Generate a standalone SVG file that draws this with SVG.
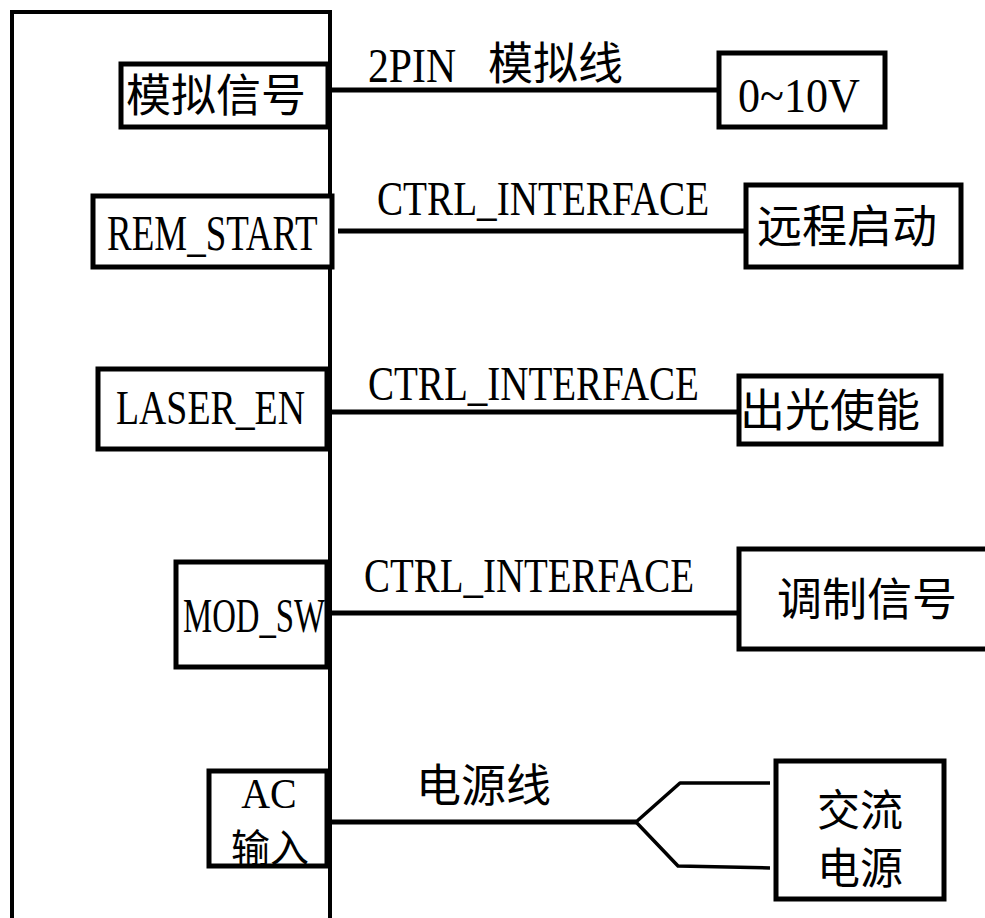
<svg xmlns="http://www.w3.org/2000/svg" width="985" height="918" viewBox="0 0 985 918">
<style>
.box{fill:#fff;stroke:#000;stroke-width:5}
.frame{fill:none;stroke:#000;stroke-width:4}
.wire{fill:none;stroke:#000;stroke-width:5}
.thin{fill:none;stroke:#000;stroke-width:3.5;stroke-linejoin:round}
.lat{font-family:"Liberation Serif","Noto Sans CJK SC",serif;font-size:48px;fill:#000}
.cjk{font-family:"Noto Sans CJK SC","Noto Sans CJK JP",sans-serif;font-size:45px;fill:#000}
</style>
<rect width="985" height="918" fill="#fff"/>
<g id="controller">
<path class="frame" d="M12,918 V12 H330 V918"/>
</g>
<g id="connectors">
<line class="wire" x1="330" y1="90" x2="718" y2="90"/>
<line class="wire" x1="338" y1="231" x2="745" y2="231"/>
<line class="wire" x1="330" y1="412" x2="738" y2="412"/>
<line class="wire" x1="330" y1="613" x2="738" y2="613"/>
<line class="wire" x1="330" y1="822" x2="636" y2="822"/>
<polyline class="thin" points="770,783 680,783 636,822 678,866 770,868"/>
<text class="lat" transform="translate(368,82) scale(0.869,1)">2PIN</text>
<text class="cjk" x="488" y="80">模拟线</text>
<text class="lat" transform="translate(377,215) scale(0.816,1)">CTRL_INTERFACE</text>
<text class="lat" transform="translate(368,400) scale(0.813,1)">CTRL_INTERFACE</text>
<text class="lat" transform="translate(364,592) scale(0.811,1)">CTRL_INTERFACE</text>
<text class="cjk" x="416" y="802">电源线</text>
</g>
<g id="analog">
<rect class="box" x="121" y="64" width="207" height="63"/>
<text class="cjk" x="126" y="112">模拟信号</text>
</g>
<g id="rem_start">
<rect class="box" x="93" y="196" width="239" height="71"/>
<text class="lat" style="font-size:50px" transform="translate(107,250) scale(0.74,1)">REM_START</text>
</g>
<g id="laser_en">
<rect class="box" x="98" y="369" width="229" height="80"/>
<text class="lat" transform="translate(116,424) scale(0.7875,1)">LASER_EN</text>
</g>
<g id="mod_sw">
<rect class="box" x="176" y="562" width="151" height="105"/>
<text class="lat" transform="translate(183,632) scale(0.683,1)">MOD_SW</text>
</g>
<g id="ac_in">
<rect class="box" x="209" y="771" width="118" height="95"/>
<text class="lat" style="font-size:42px" text-anchor="middle" transform="translate(269,808) scale(0.95,1)">AC</text>
<text class="cjk" style="font-size:39px" x="270" y="862" text-anchor="middle">输入</text>
</g>
<g id="v010">
<rect class="box" x="719" y="53" width="166" height="74"/>
<text class="lat" transform="translate(738,112) scale(0.92,1)">0~10V</text>
</g>
<g id="remote">
<rect class="box" x="746" y="185" width="215" height="82"/>
<text class="cjk" x="757" y="243">远程启动</text>
</g>
<g id="laser_enable">
<rect class="box" x="739" y="376" width="202" height="68"/>
<text class="cjk" x="740" y="427">出光使能</text>
</g>
<g id="modulation">
<rect class="box" x="739" y="549" width="250" height="100"/>
<text class="cjk" x="777" y="616">调制信号</text>
</g>
<g id="ac_power">
<rect class="box" x="776" y="761" width="168" height="138"/>
<text class="cjk" style="font-size:43px" x="860" y="826" text-anchor="middle">交流</text>
<text class="cjk" style="font-size:43px" x="860" y="884" text-anchor="middle">电源</text>
</g>
</svg>
